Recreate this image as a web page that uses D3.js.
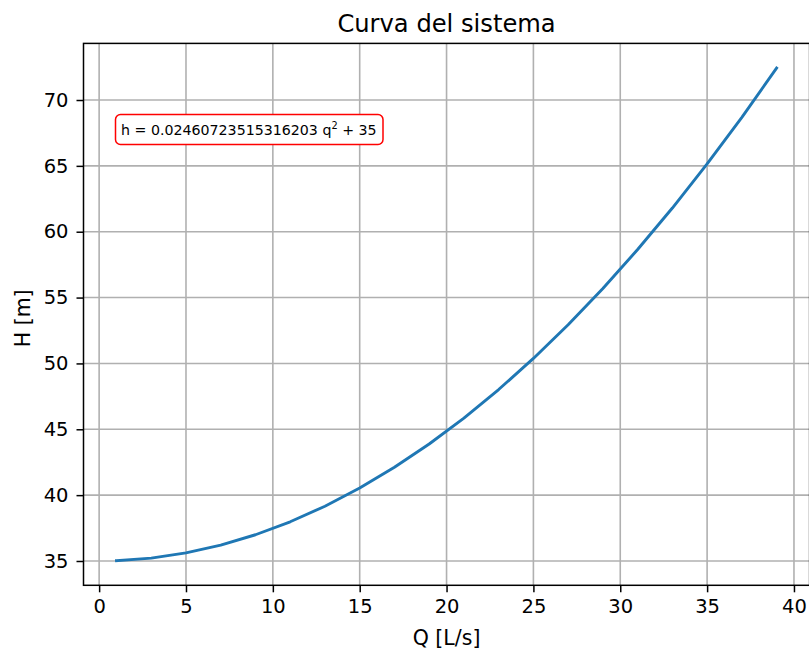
<!DOCTYPE html>
<html>
<head>
<meta charset="utf-8">
<script src="https://cdn.jsdelivr.net/npm/d3@7"></script>
<style>
  html, body { margin: 0; padding: 0; background: #fff; }
  svg { display: block; font-family: "DejaVu Sans", sans-serif; }
</style>
</head>
<body>
<svg id="chart" width="809" height="651"></svg>
<script>
// System curve h = c·q² + 35, sampled at odd flow rates
const flowQ = [1, 3, 5, 7, 9, 11, 13, 15, 17, 19, 21, 23, 25, 27, 29, 31, 33, 35, 37, 39];
const headH = [35.0246, 35.2215, 35.6152, 36.2058, 36.9932, 37.9775, 39.1586, 40.5366,
               42.1115, 43.8832, 45.8518, 48.0172, 50.3795, 52.9387, 55.6947, 58.6476,
               61.7973, 65.1439, 68.6873, 72.4276];
const xTicks = [0, 5, 10, 15, 20, 25, 30, 35, 40];
const yTicks = [35, 40, 45, 50, 55, 60, 65, 70];
const titleText = "Curva del sistema";
const xLabel = "Q [L/s]";
const yLabel = "H [m]";
const coefText = "0.02460723515316203";

const svg = d3.select("#chart");
const plot = { left: 83.5, right: 809.6, top: 43.4, bottom: 585.3 };

// 5% padding around the data, like matplotlib's autoscale
function padded(vals) {
  const [a, b] = d3.extent(vals);
  const m = (b - a) * 0.05;
  return [a - m, b + m];
}
const x = d3.scaleLinear().domain(padded(flowQ)).range([plot.left, plot.right]);
const y = d3.scaleLinear().domain(padded(headH)).range([plot.bottom, plot.top]);

// grid
const grid = svg.append("g").attr("stroke", "#b0b0b0").attr("stroke-width", 1.6);
xTicks.forEach(t => grid.append("line")
  .attr("x1", x(t)).attr("x2", x(t)).attr("y1", plot.top).attr("y2", plot.bottom));
yTicks.forEach(t => grid.append("line")
  .attr("x1", plot.left).attr("x2", plot.right).attr("y1", y(t)).attr("y2", y(t)));

// curve
const line = d3.line().x((d, i) => x(flowQ[i])).y(d => y(d));
svg.append("path").datum(headH)
  .attr("d", line)
  .attr("fill", "none")
  .attr("stroke", "#1f77b4")
  .attr("stroke-width", 2.9)
  .attr("stroke-linejoin", "round")
  .attr("stroke-linecap", "square");

// axes
const xAxis = d3.axisBottom(x).tickValues(xTicks).tickSize(7).tickPadding(7).tickFormat(d3.format("d"));
const yAxis = d3.axisLeft(y).tickValues(yTicks).tickSize(7).tickPadding(8).tickFormat(d3.format("d"));
function styleAxis(g) {
  g.select(".domain").remove();
  g.selectAll(".tick line").attr("stroke", "#000").attr("stroke-width", 1.5);
  g.selectAll(".tick text").attr("fill", "#000")
    .attr("font-size", "19.5px").attr("font-family", "DejaVu Sans, sans-serif");
}
svg.append("g").attr("transform", `translate(0,${plot.bottom})`).call(xAxis).call(styleAxis);
svg.append("g").attr("transform", `translate(${plot.left},0)`).call(yAxis).call(styleAxis);

// spines
svg.append("rect")
  .attr("x", plot.left).attr("y", plot.top)
  .attr("width", plot.right - plot.left).attr("height", plot.bottom - plot.top)
  .attr("fill", "none").attr("stroke", "#000").attr("stroke-width", 1.5);

// titles
const cx = (plot.left + plot.right) / 2;
svg.append("text").attr("x", cx).attr("y", 31.5).attr("text-anchor", "middle")
  .attr("font-size", "24.2px").attr("fill", "#000").text(titleText);
svg.append("text").attr("x", cx).attr("y", 645).attr("text-anchor", "middle")
  .attr("font-size", "20.5px").attr("fill", "#000").text(xLabel);
svg.append("text").attr("transform", `translate(30,${(plot.top + plot.bottom) / 2 + 4}) rotate(-90)`)
  .attr("text-anchor", "middle").attr("font-size", "20.5px").attr("fill", "#000").text(yLabel);

// equation box
const box = svg.append("g");
box.append("rect").attr("x", 115.5).attr("y", 114.5).attr("width", 267.5).attr("height", 30)
  .attr("rx", 5).attr("ry", 5)
  .attr("fill", "#fff").attr("stroke", "#ff0000").attr("stroke-width", 1.5);
const eq = box.append("text").attr("x", 121).attr("y", 134.5).attr("font-size", "14px").attr("fill", "#000");
eq.append("tspan").text(`h = ${coefText} q`);
eq.append("tspan").attr("dy", -6).attr("font-size", "9.8px").text("2");
eq.append("tspan").attr("dy", 6).text(" + 35");
// fit the equation inside its box
const w = eq.node().getComputedTextLength();
const target = 256;
if (w > 0) eq.attr("font-size", (14 * target / w).toFixed(2) + "px");
</script>
</body>
</html>
